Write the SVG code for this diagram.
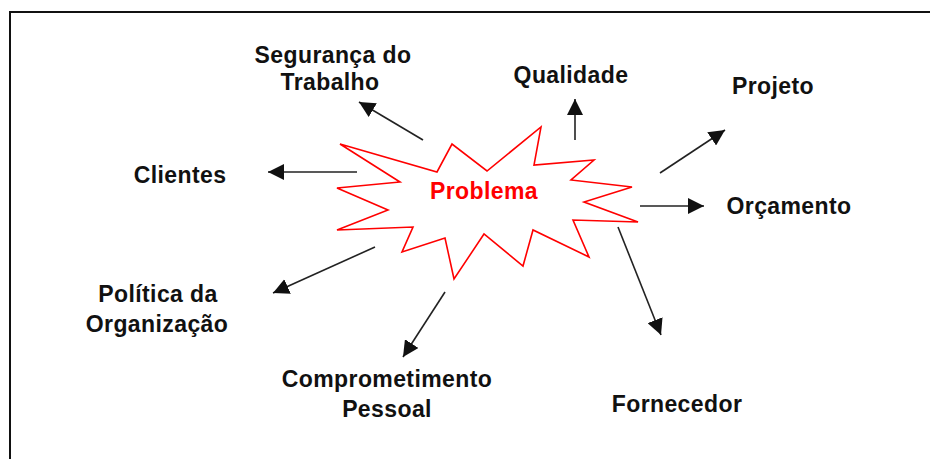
<svg xmlns="http://www.w3.org/2000/svg" width="930" height="459" viewBox="0 0 930 459">
<style>
.lbl{font-family:"Liberation Sans",Arial,sans-serif;font-weight:bold;font-size:23px;letter-spacing:0.4px;fill:#111;text-anchor:middle}
.cn{stroke:#222;stroke-width:1.6;fill:none;marker-end:url(#ah)}
</style>
<defs>
<marker id="ah" markerUnits="userSpaceOnUse" markerWidth="18" markerHeight="16" refX="16" refY="8" orient="auto">
<path d="M0,0 L16,8 L0,16 Z" fill="#111"/>
</marker>
</defs>
<rect x="0" y="0" width="930" height="459" fill="#fff"/>
<rect x="10" y="12" width="940" height="470" fill="none" stroke="#111" stroke-width="2"/>
<g id="problema">
<polygon points="340,144 437,172 452,144 487,171 541,127 534,165 594,160 571,180 632,187 584,202 638,222 573,220 589,257 533,230 523,266 484,234 454,279 445,238 402,252 413,227 337,230 388,210 337,188 400,182" fill="#fff" stroke="#f00" stroke-width="1.6" stroke-linejoin="miter"/>
<text x="484" y="199" style="font-family:'Liberation Sans',Arial,sans-serif;font-weight:bold;font-size:23px;letter-spacing:0.4px;fill:#f00;text-anchor:middle">Problema</text>
</g>
<g id="seguranca"><text class="lbl" x="333" y="63">Segurança do</text><text class="lbl" x="330" y="90">Trabalho</text></g>
<g id="qualidade"><text class="lbl" x="571" y="83">Qualidade</text></g>
<g id="projeto"><text class="lbl" x="773" y="94">Projeto</text></g>
<g id="orcamento"><text class="lbl" x="789" y="214">Orçamento</text></g>
<g id="clientes"><text class="lbl" x="180" y="183">Clientes</text></g>
<g id="politica"><text class="lbl" x="158" y="302">Política da</text><text class="lbl" x="157" y="332">Organização</text></g>
<g id="comprometimento"><text class="lbl" x="387" y="387">Comprometimento</text><text class="lbl" x="387" y="417">Pessoal</text></g>
<g id="fornecedor"><text class="lbl" x="677" y="412">Fornecedor</text></g>
<g id="connectors">
<line class="cn" x1="423" y1="140" x2="359" y2="102"/>
<line class="cn" x1="575" y1="140" x2="575" y2="99"/>
<line class="cn" x1="660" y1="173" x2="725" y2="130"/>
<line class="cn" x1="640" y1="206" x2="704" y2="206"/>
<line class="cn" x1="357" y1="172" x2="268" y2="172"/>
<line class="cn" x1="375" y1="247" x2="273" y2="293"/>
<line class="cn" x1="445" y1="292" x2="403" y2="357"/>
<line class="cn" x1="618" y1="227" x2="661" y2="335"/>
</g>
</svg>
